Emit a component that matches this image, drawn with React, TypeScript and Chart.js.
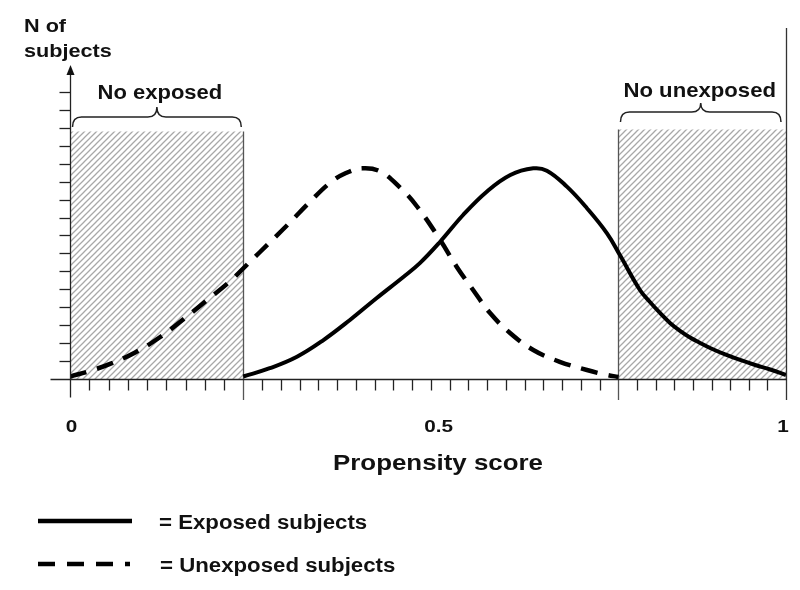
import React, { useEffect, useRef } from "react";
import { Chart, registerables } from "chart.js";

Chart.register(...registerables);

// ---------- data ----------
const exposedScores = [0.242, 0.279, 0.317, 0.354, 0.391, 0.428, 0.466, 0.489, 0.517, 0.549, 0.582, 0.615, 0.647, 0.666, 0.694, 0.722, 0.75, 0.768, 0.796, 0.81, 0.824, 0.838, 0.852, 0.866, 0.88, 0.894, 0.915, 0.936, 0.957, 0.978, 1.0];
const exposedCounts = [0.14, 0.6, 1.24, 2.17, 3.29, 4.5, 5.7, 6.47, 7.65, 9.14, 10.44, 11.37, 11.74, 11.61, 10.72, 9.52, 8.12, 6.91, 4.96, 4.29, 3.68, 3.12, 2.68, 2.31, 2.01, 1.73, 1.37, 1.06, 0.78, 0.53, 0.22];

const unexposedScores = [0.0, 0.028, 0.056, 0.091, 0.126, 0.158, 0.191, 0.223, 0.251, 0.279, 0.307, 0.335, 0.363, 0.384, 0.408, 0.433, 0.461, 0.485, 0.517, 0.54, 0.563, 0.587, 0.615, 0.647, 0.684, 0.722, 0.747, 0.766];
const unexposedCounts = [0.14, 0.45, 0.84, 1.48, 2.34, 3.32, 4.38, 5.43, 6.52, 7.61, 8.72, 9.87, 10.93, 11.45, 11.74, 11.57, 10.67, 9.6, 7.75, 6.26, 4.96, 3.66, 2.55, 1.62, 0.96, 0.5, 0.25, 0.11];

// minor ticks: number of intervals in each of the three sections
const lowSectionTicks = 9;
const midSectionTicks = 20;
const highSectionTicks = 9;
const yTickCount = 16;
const cutLow = 0.242;
const cutHigh = 0.766;
const noExposedHeight = 13.8;
const noUnexposedHeight = 13.9;
const yMax = 17.5;

const xTickLabels = ["0", "0.5", "1"];
const xTickLabelValues = [0.002, 0.515, 0.996];

const yAxisTitle = ["N of", "subjects"];
const xAxisTitle = "Propensity score";
const regionLabels = ["No exposed", "No unexposed"];
const legendLabels = ["= Exposed subjects", "= Unexposed subjects"];

const FONT = '"Liberation Sans", Arial, sans-serif';

function txt(ctx: CanvasRenderingContext2D, s: string, x: number, y: number, size: number, align: CanvasTextAlign, sx: number) {
  ctx.save();
  ctx.font = `bold ${size}px ${FONT}`;
  ctx.fillStyle = "#111";
  ctx.textBaseline = "alphabetic";
  ctx.textAlign = align;
  ctx.translate(x, y);
  ctx.scale(sx, 1);
  ctx.fillText(s, 0, 0);
  ctx.restore();
}

function brace(ctx: CanvasRenderingContext2D, x1: number, x2: number, yEnd: number, yMid: number, yTip: number) {
  const xc = (x1 + x2) / 2;
  const r = 9;
  ctx.save();
  ctx.strokeStyle = "#222";
  ctx.lineWidth = 1.5;
  ctx.beginPath();
  ctx.moveTo(x1, yEnd);
  ctx.quadraticCurveTo(x1, yMid, x1 + r, yMid);
  ctx.lineTo(xc - r, yMid);
  ctx.quadraticCurveTo(xc, yMid, xc, yTip);
  ctx.quadraticCurveTo(xc, yMid, xc + r, yMid);
  ctx.lineTo(x2 - r, yMid);
  ctx.quadraticCurveTo(x2, yMid, x2, yEnd);
  ctx.stroke();
  ctx.restore();
}

function minorTickValues(): number[] {
  const out: number[] = [];
  for (let i = 1; i < lowSectionTicks; i++) out.push((cutLow * i) / lowSectionTicks);
  for (let i = 1; i < midSectionTicks; i++) out.push(cutLow + ((cutHigh - cutLow) * i) / midSectionTicks);
  for (let i = 1; i < highSectionTicks; i++) out.push(cutHigh + ((1 - cutHigh) * i) / highSectionTicks);
  return out;
}

const decorPlugin = {
  id: "decor",
  afterDatasetDraw(chart: any, args: any) {
    const ds = chart.data.datasets[args.index];
    if (!ds.region) return;
    const ctx = chart.ctx as CanvasRenderingContext2D;
    const xs = chart.scales.x;
    const ys = chart.scales.y;
    const yBase = ys.getPixelForValue(0);
    ctx.save();
    ctx.lineWidth = 1.3;
    if (ds.region === "low") {
      const x = Math.round(xs.getPixelForValue(cutLow)) + 0.5;
      ctx.strokeStyle = "#555";
      ctx.beginPath();
      ctx.moveTo(x, ys.getPixelForValue(noExposedHeight));
      ctx.lineTo(x, yBase + 21);
      ctx.stroke();
    } else {
      const x = Math.round(xs.getPixelForValue(cutHigh)) + 0.5;
      ctx.strokeStyle = "#555";
      ctx.beginPath();
      ctx.moveTo(x, ys.getPixelForValue(noUnexposedHeight));
      ctx.lineTo(x, yBase + 21);
      ctx.stroke();
      const xr = Math.round(xs.getPixelForValue(1)) + 0.5;
      ctx.strokeStyle = "#333";
      ctx.beginPath();
      ctx.moveTo(xr, 28);
      ctx.lineTo(xr, yBase + 21);
      ctx.stroke();
    }
    ctx.restore();
  },
  afterDatasetsDraw(chart: any) {
    const ctx = chart.ctx as CanvasRenderingContext2D;
    const xs = chart.scales.x;
    const ys = chart.scales.y;
    const x0 = Math.round(xs.getPixelForValue(0)) + 0.5;
    const x1 = xs.getPixelForValue(1);
    const yBase = Math.round(ys.getPixelForValue(0)) + 0.5;
    const yTop = ys.getPixelForValue(yMax);

    ctx.save();
    ctx.strokeStyle = "#222";
    ctx.lineWidth = 1.3;
    ctx.beginPath();
    ctx.moveTo(x0 - 20, yBase);
    ctx.lineTo(x1 + 1, yBase);
    ctx.stroke();
    ctx.beginPath();
    ctx.moveTo(x0, yTop + 8);
    ctx.lineTo(x0, yBase + 18);
    ctx.stroke();
    ctx.fillStyle = "#111";
    ctx.beginPath();
    ctx.moveTo(x0, yTop);
    ctx.lineTo(x0 - 4, yTop + 10);
    ctx.lineTo(x0 + 4, yTop + 10);
    ctx.closePath();
    ctx.fill();
    for (let i = 1; i <= yTickCount; i++) {
      const y = Math.round(ys.getPixelForValue(i)) + 0.5;
      ctx.beginPath();
      ctx.moveTo(x0 - 11, y);
      ctx.lineTo(x0, y);
      ctx.stroke();
    }
    minorTickValues().forEach((v) => {
      const x = Math.round(xs.getPixelForValue(v)) + 0.5;
      ctx.beginPath();
      ctx.moveTo(x, yBase);
      ctx.lineTo(x, yBase + 11);
      ctx.stroke();
    });
    ctx.restore();

    xTickLabels.forEach((l, i) => {
      txt(ctx, l, xs.getPixelForValue(xTickLabelValues[i]), yBase + 52.5, 17, "center", 1.22);
    });
    txt(ctx, xAxisTitle, (xs.getPixelForValue(0) + x1) / 2 + 10, yBase + 90, 22.5, "center", 1.15);
    txt(ctx, yAxisTitle[0], 24, 31.5, 18.5, "left", 1.17);
    txt(ctx, yAxisTitle[1], 24, 56.5, 18.5, "left", 1.17);

    const lx1 = xs.getPixelForValue(0) + 2.5;
    const lx2 = xs.getPixelForValue(cutLow) - 2;
    brace(ctx, lx1, lx2, 127, 117, 107);
    txt(ctx, regionLabels[0], (lx1 + lx2) / 2 + 3, 99.3, 20, "center", 1.1);
    const rx1 = xs.getPixelForValue(cutHigh) + 2;
    const rx2 = x1 - 5;
    brace(ctx, rx1, rx2, 122, 112, 103);
    txt(ctx, regionLabels[1], (rx1 + rx2) / 2 - 1, 96.5, 20.5, "center", 1.08);

    ctx.save();
    ctx.strokeStyle = "#000";
    ctx.lineWidth = 4.5;
    ctx.lineCap = "butt";
    ctx.beginPath();
    ctx.moveTo(38, 521);
    ctx.lineTo(132, 521);
    ctx.stroke();
    ctx.setLineDash([17, 12]);
    ctx.beginPath();
    ctx.moveTo(38, 564);
    ctx.lineTo(130, 564);
    ctx.stroke();
    ctx.restore();
    txt(ctx, legendLabels[0], 159, 529, 19.5, "left", 1.14);
    txt(ctx, legendLabels[1], 160, 572, 19.5, "left", 1.14);
  },
};

export default function App() {
  const ref = useRef<HTMLCanvasElement | null>(null);
  useEffect(() => {
    const canvas = ref.current!;
    const ctx = canvas.getContext("2d")!;
    const tile = document.createElement("canvas");
    const s = 6;
    tile.width = s;
    tile.height = s;
    const g = tile.getContext("2d")!;
    g.fillStyle = "#fff";
    g.fillRect(0, 0, s, s);
    g.strokeStyle = "#a8a8a8";
    g.lineWidth = 1.3;
    g.beginPath();
    g.moveTo(-1, s + 1);
    g.lineTo(s + 1, -1);
    g.moveTo(-1, 1);
    g.lineTo(1, -1);
    g.moveTo(s - 1, s + 1);
    g.lineTo(s + 1, s - 1);
    g.stroke();
    const hatch = ctx.createPattern(tile, "repeat")!;

    const chart = new Chart(canvas, {
      type: "line",
      data: {
        datasets: [
          {
            label: "Exposed subjects",
            data: exposedScores.map((x, i) => ({ x, y: exposedCounts[i] })),
            borderColor: "#000",
            borderWidth: 4,
            pointRadius: 0,
            tension: 0.4,
            fill: false,
            order: 0,
          },
          {
            label: "Unexposed subjects",
            data: unexposedScores.map((x, i) => ({ x, y: unexposedCounts[i] })),
            borderColor: "#000",
            borderWidth: 4.5,
            borderDash: [17, 11],
            pointRadius: 0,
            tension: 0.4,
            fill: false,
            order: 0,
          },
          {
            label: "No exposed",
            region: "low",
            data: [{ x: 0, y: noExposedHeight }, { x: cutLow, y: noExposedHeight }],
            borderWidth: 0,
            borderColor: "rgba(0,0,0,0)",
            backgroundColor: hatch,
            pointRadius: 0,
            fill: "origin",
            order: 1,
          } as any,
          {
            label: "No unexposed",
            region: "high",
            data: [{ x: cutHigh, y: noUnexposedHeight }, { x: 1, y: noUnexposedHeight }],
            borderWidth: 0,
            borderColor: "rgba(0,0,0,0)",
            backgroundColor: hatch,
            pointRadius: 0,
            fill: "origin",
            order: 1,
          } as any,
        ],
      },
      options: {
        animation: false,
        responsive: false,
        devicePixelRatio: 1,
        layout: { padding: { left: 70, right: 14, top: 65, bottom: 211 } },
        plugins: { legend: { display: false }, tooltip: { enabled: false } },
        scales: {
          x: { type: "linear", min: 0, max: 1, display: false },
          y: { type: "linear", min: 0, max: yMax, display: false },
        },
      },
      plugins: [decorPlugin],
    });
    return () => chart.destroy();
  }, []);

  return (
    <div style={{ position: "fixed", left: 0, top: 0, width: 800, height: 590, background: "#fff" }}>
      <canvas ref={ref} width={800} height={590} style={{ width: 800, height: 590, display: "block" }} />
    </div>
  );
}
